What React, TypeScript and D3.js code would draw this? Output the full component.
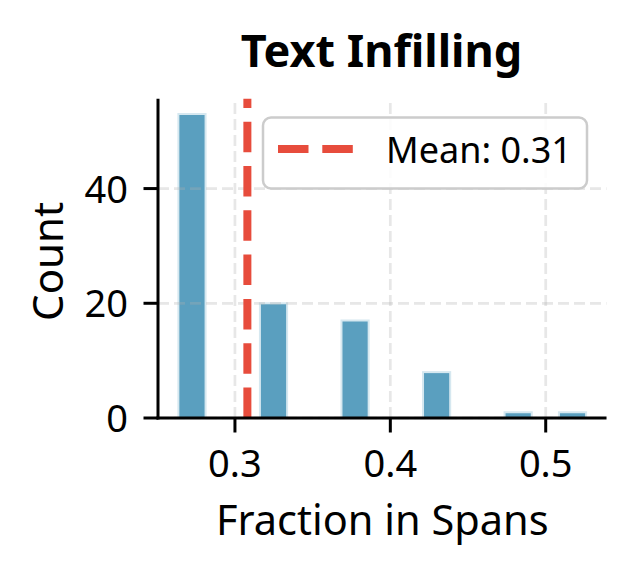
import React from 'react'
import * as d3 from 'd3'

// histogram, 15 equal bins between binRange
const binCounts = [53, 0, 0, 20, 0, 0, 17, 0, 0, 8, 0, 0, 1, 0, 1]
const binRange: [number, number] = [0.2636, 0.526]
const meanValue = 0.308
const xTicks = [0.3, 0.4, 0.5]
const yTicks = [0, 20, 40]
const title = 'Text Infilling'
const xLabel = 'Fraction in Spans'
const yLabel = 'Count'

const W = 634
const H = 574
const plot = { left: 158, right: 606.5, top: 98.8, bottom: 418 }
const font = '"Noto Sans", sans-serif'

const App = () => {
	const [lo, hi] = binRange
	const bw = (hi - lo) / binCounts.length
	const pad = (hi - lo) * 0.05

	const xScale = d3
		.scaleLinear()
		.domain([lo - pad, hi + pad])
		.range([plot.left, plot.right])

	const yMax = (d3.max(binCounts) || 1) * 1.05
	const yScale = d3.scaleLinear().domain([0, yMax]).range([plot.bottom, plot.top])

	const bins = binCounts.map((c, i) => ({ x0: lo + i * bw, x1: lo + (i + 1) * bw, count: c }))
	const mx = xScale(meanValue)

	return (
		<svg
			width={W}
			height={H}
			style={{ position: 'absolute', left: 0, top: 0, background: '#fff' }}
			fontFamily={font}
		>
			<rect width={W} height={H} fill="#fff" />
			{/* bars */}
			<g>
				{bins
					.filter((b) => b.count > 0)
					.map((b, i) => (
						<rect
							key={i}
							x={xScale(b.x0)}
							y={yScale(b.count)}
							width={xScale(b.x1) - xScale(b.x0)}
							height={yScale(0) - yScale(b.count)}
							fill="#5a9fbf"
							stroke="#d6e8f0"
							strokeWidth={2}
						/>
					))}
			</g>
			{/* grid */}
			<g stroke="#b0b0b0" strokeOpacity={0.3} strokeWidth={2.7} strokeDasharray="11 5">
				{xTicks.map((t) => (
					<line key={'gx' + t} x1={xScale(t)} x2={xScale(t)} y1={plot.bottom} y2={plot.top} />
				))}
				{yTicks.map((t) => (
					<line key={'gy' + t} x1={plot.left} x2={plot.right} y1={yScale(t)} y2={yScale(t)} />
				))}
			</g>
			{/* mean line */}
			<line
				x1={mx}
				x2={mx}
				y1={plot.bottom}
				y2={plot.top}
				stroke="#e74c3c"
				strokeWidth={8}
				strokeDasharray="30.5 13.8"
			/>
			{/* spines */}
			<g stroke="#000" strokeWidth={3}>
				<line x1={plot.left} x2={plot.left} y1={plot.top} y2={plot.bottom + 1.5} />
				<line x1={plot.left - 1.5} x2={plot.right} y1={plot.bottom} y2={plot.bottom} />
			</g>
			{/* x axis */}
			<g>
				{xTicks.map((t) => (
					<g key={'xt' + t} transform={`translate(${xScale(t)},${plot.bottom})`}>
						<line y1={0} y2={14.5} stroke="#000" strokeWidth={3} />
						<text y={59} textAnchor="middle" fontSize={38} fill="#000">
							{t.toFixed(1)}
						</text>
					</g>
				))}
				<text x={(plot.left + plot.right) / 2} y={535} textAnchor="middle" fontSize={41.5} fill="#000">
					{xLabel}
				</text>
			</g>
			{/* y axis */}
			<g>
				{yTicks.map((t) => (
					<g key={'yt' + t} transform={`translate(${plot.left},${yScale(t)})`}>
						<line x1={0} x2={-14.5} stroke="#000" strokeWidth={3} />
						<text x={-30} y={14} textAnchor="end" fontSize={38} fill="#000">
							{t}
						</text>
					</g>
				))}
				<text
					transform={`translate(63,${(plot.top + plot.bottom) / 2 + 3}) rotate(-90)`}
					textAnchor="middle"
					fontSize={42}
					fill="#000"
				>
					{yLabel}
				</text>
			</g>
			{/* title */}
			<text
				x={381.5}
				y={66.7}
				textAnchor="middle"
				fontSize={45}
				fontWeight={700}
				fill="#000"
			>
				{title}
			</text>
			{/* legend */}
			<g>
				<rect
					x={263}
					y={117.5}
					width={324}
					height={71}
					rx={8}
					fill="#fff"
					fillOpacity={0.85}
					stroke="#cccccc"
					strokeWidth={2.5}
				/>
				<line
					x1={278}
					x2={354}
					y1={149}
					y2={149}
					stroke="#e74c3c"
					strokeWidth={8}
					strokeDasharray="30.5 13.8"
				/>
				<text x={386} y={162.7} fontSize={36} fill="#000">
					{`Mean: ${meanValue.toFixed(2)}`}
				</text>
			</g>
		</svg>
	)
}

export default App
